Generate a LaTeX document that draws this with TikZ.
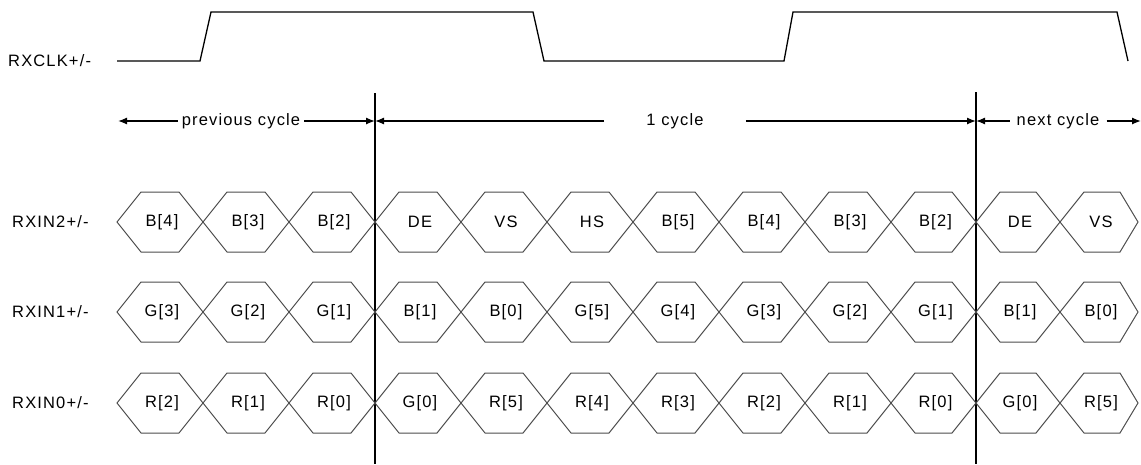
\documentclass[tikz,border=0pt]{standalone}
\usepackage{fontspec}
\setmainfont[LetterSpace=7]{Liberation Sans}
\usetikzlibrary{arrows.meta}
\begin{document}
\begin{tikzpicture}[x=1pt,y=-1pt,
  lbl/.style={font=\fontsize{16.5}{18}\selectfont, inner sep=0pt},
  sig/.style={lbl, anchor=west},
  hexline/.style={draw=black!70, line width=1.0pt, line join=miter},
  clk/.style={draw=black, line width=1.3pt},
  vline/.style={draw=black, line width=1.3pt},
  arr/.style={draw=black, line width=1.3pt, -{Latex[length=9pt,width=7pt]}},
  cyc/.style={lbl, inner xsep=4pt}]
\useasboundingbox (0,0) rectangle (1141,464);
% signal names
\node[sig] (nclk) at (8,61) {RXCLK+/-};
\node[sig] (n2) at (12,222) {RXIN2+/-};
\node[sig] (n1) at (12,312) {RXIN1+/-};
\node[sig] (n0) at (12,403) {RXIN0+/-};
% clock waveform
\draw[clk] (117,61) -- (200,61) -- (211,12) -- (533,12) -- (544,61) -- (784,61) -- (793,12) -- (1117,12) -- (1128,61);
% cycle boundaries
\coordinate (ta) at (375,93);
\coordinate (ba) at (375,464);
\coordinate (tb) at (976,92);
\coordinate (bb) at (976,464);
\draw[vline] (ta) -- (ba);
\draw[vline] (tb) -- (bb);
% cycle arrows
\coordinate (pl) at (118,121);
\coordinate (pr) at (375,121);
\coordinate (nr) at (976,121);
\coordinate (xr) at (1141,121);
\node[cyc] (prev) at (241,121) {previous cycle};
\node[cyc, inner xsep=42pt] (one) at (675,121) {1 cycle};
\node[cyc, inner xsep=7pt] (next) at (1058,121) {next cycle};
\draw[arr] (prev) -- (pl);
\draw[arr] (prev) -- (pr);
\draw[arr] (one) -- (pr);
\draw[arr] (one) -- (nr);
\draw[arr] (next) -- (nr);
\draw[arr] (next) -- (xr);
% hexagon rows
\def\hexrow#1#2#3{%
  \foreach \xl/\xr/\sr/\t [count=\i] in {#3} {
    \draw[hexline] (\xl,#1) -- (\xl+24,#1-30) -- (\xr-\sr,#1-30) -- (\xr,#1) -- (\xr-\sr,#1+30) -- (\xl+24,#1+30) -- cycle;
    \node[lbl] (#2\i) at ({(\xl+\xr)/2+2},#1) {\t};
  }}
\hexrow{222}{b}{117/203/24/B[4], 203/289/24/B[3], 289/375/24/B[2], 375/461/24/DE, 461/547/24/VS, 547/633/24/HS, 633/719/24/B[5], 719/805/24/B[4], 805/891/24/B[3], 891/976/24/B[2], 976/1060/24/DE, 1060/1138/18/VS}
\hexrow{312}{g}{117/203/24/G[3], 203/289/24/G[2], 289/375/24/G[1], 375/461/24/B[1], 461/547/24/B[0], 547/633/24/G[5], 633/719/24/G[4], 719/805/24/G[3], 805/891/24/G[2], 891/976/24/G[1], 976/1060/24/B[1], 1060/1138/18/B[0]}
\hexrow{403}{r}{117/203/24/R[2], 203/289/24/R[1], 289/375/24/R[0], 375/461/24/G[0], 461/547/24/R[5], 547/633/24/R[4], 633/719/24/R[3], 719/805/24/R[2], 805/891/24/R[1], 891/976/24/R[0], 976/1060/24/G[0], 1060/1138/18/R[5]}
\end{tikzpicture}
\end{document}
